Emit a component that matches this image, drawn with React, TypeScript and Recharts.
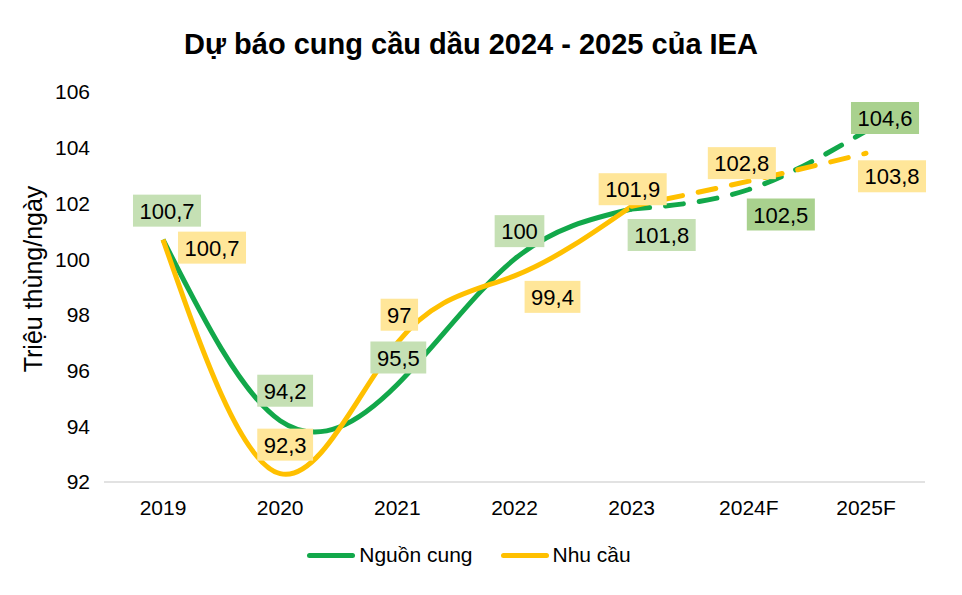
import React from 'react';
import { LineChart, Line, XAxis, YAxis, LabelList } from 'recharts';

const years = ['2019', '2020', '2021', '2022', '2023', '2024F', '2025F'];
const supply = [100.7, 94.2, 95.5, 100, 101.8, 102.5, 104.6];
const demand = [100.7, 92.3, 97, 99.4, 101.9, 102.8, 103.8];
const yTicks = [92, 94, 96, 98, 100, 102, 104, 106];
const lastActual = 4; // 2023 is the last actual year, after that it's forecast

const GREEN = '#12A84A';
const YELLOW = '#FFC000';
const FONT = 'Liberation Sans, Arial, sans-serif';

// label offsets (from the point) for each year
const supplyOffsets = [[4, -29], [5, -30], [1, -27], [5, -28], [30, 26], [32, 25], [19, -13]];
const demandOffsets = [[49, 8], [5, -29], [2, -28], [38, 21], [1, -17], [-7, -18], [26, 23]];
const supplyBg = ['#C5E0B4', '#C5E0B4', '#C5E0B4', '#C5E0B4', '#C5E0B4', '#A9D18E', '#A9D18E'];

const data = years.map((year, i) => ({
    year,
    supplyAll: supply[i],
    demandAll: demand[i],
    supplySolid: i <= lastActual ? supply[i] : null,
    demandSolid: i <= lastActual ? demand[i] : null,
    supplyDash: i >= lastActual ? supply[i] : null,
    demandDash: i >= lastActual ? demand[i] : null,
}));

// rough Arial widths, to size the label boxes
const textWidth = (s: string, size: number) =>
    s.split('').reduce((w, c) => w + (c === ',' ? 0.278 : 0.556), 0) * size;

const makeTag = (offsets: number[][], bg: (i: number) => string) => (props: any) => {
    const { x, y, value, index } = props;
    if (value == null) return null;
    const text = String(value).replace('.', ',');
    const w = textWidth(text, 22) + 13;
    const h = 32;
    const cx = x + offsets[index][0];
    const cy = y + offsets[index][1];
    return (
        <g>
            <rect x={cx - w / 2} y={cy - h / 2} width={w} height={h} fill={bg(index)} />
            <text x={cx} y={cy + 8} textAnchor="middle" fontSize={22} fill="#000" fontFamily={FONT}>
                {text}
            </text>
        </g>
    );
};

const SupplyTag = makeTag(supplyOffsets, (i) => supplyBg[i]);
const DemandTag = makeTag(demandOffsets, () => '#FFE699');

const AxisTitle = (props: any) => {
    const { viewBox } = props;
    const cx = viewBox.x - 11;
    const cy = viewBox.y + viewBox.height / 2 - 8;
    return (
        <text x={cx} y={cy} transform={`rotate(-90 ${cx} ${cy})`} textAnchor="middle" dominantBaseline="central" fontSize={25} fill="#000" fontFamily={FONT}>
            Triệu thùng/ngày
        </text>
    );
};

export default function App() {
    return (
        <div style={{ position: 'absolute', left: 0, top: 0, width: 962, height: 595, background: '#fff', fontFamily: FONT }}>
            <div style={{ position: 'absolute', top: 28, left: 0, width: 942, textAlign: 'center', fontSize: 29, lineHeight: '33px', fontWeight: 'bold', color: '#000' }}>
                Dự báo cung cầu dầu 2024 - 2025 của IEA
            </div>
            <LineChart width={962} height={595} data={data} margin={{ top: 92, right: 37, bottom: 83, left: 44 }}>
                <XAxis
                    dataKey="year"
                    axisLine={{ stroke: '#D9D9D9', strokeWidth: 1.5 }}
                    tickLine={false}
                    tick={{ fill: '#000', fontSize: 21, fontFamily: FONT }}
                    tickMargin={12}
                    padding={{ left: 59, right: 59 }}
                />
                <YAxis
                    domain={[92, 106]}
                    ticks={yTicks}
                    axisLine={false}
                    tickLine={false}
                    tickSize={0}
                    tickMargin={14}
                    width={60}
                    tick={{ fill: '#000', fontSize: 21, fontFamily: FONT }}
                    label={<AxisTitle />}
                />
                <Line type="natural" dataKey="supplySolid" stroke={GREEN} strokeWidth={5} dot={false} isAnimationActive={false} />
                <Line type="natural" dataKey="demandSolid" stroke={YELLOW} strokeWidth={5} dot={false} isAnimationActive={false} />
                <Line type="natural" dataKey="supplyDash" stroke={GREEN} strokeWidth={5} strokeDasharray="18 16" strokeLinecap="round" dot={false} isAnimationActive={false} />
                <Line type="natural" dataKey="demandDash" stroke={YELLOW} strokeWidth={5} strokeDasharray="18 16" strokeLinecap="round" dot={false} isAnimationActive={false} />
                <Line dataKey="supplyAll" stroke="none" dot={false} activeDot={false} isAnimationActive={false}>
                    <LabelList dataKey="supplyAll" content={SupplyTag} />
                </Line>
                <Line dataKey="demandAll" stroke="none" dot={false} activeDot={false} isAnimationActive={false}>
                    <LabelList dataKey="demandAll" content={DemandTag} />
                </Line>
            </LineChart>
            <div style={{ position: 'absolute', top: 542, left: -12, width: 962, display: 'flex', justifyContent: 'center', fontSize: 21, lineHeight: '26px', color: '#000' }}>
                <div style={{ display: 'flex', alignItems: 'center', marginRight: 28 }}>
                    <span style={{ display: 'inline-block', width: 48, height: 5, borderRadius: 3, background: GREEN, marginRight: 4 }} />
                    Nguồn cung
                </div>
                <div style={{ display: 'flex', alignItems: 'center' }}>
                    <span style={{ display: 'inline-block', width: 48, height: 5, borderRadius: 3, background: YELLOW, marginRight: 4 }} />
                    Nhu cầu
                </div>
            </div>
        </div>
    );
}
